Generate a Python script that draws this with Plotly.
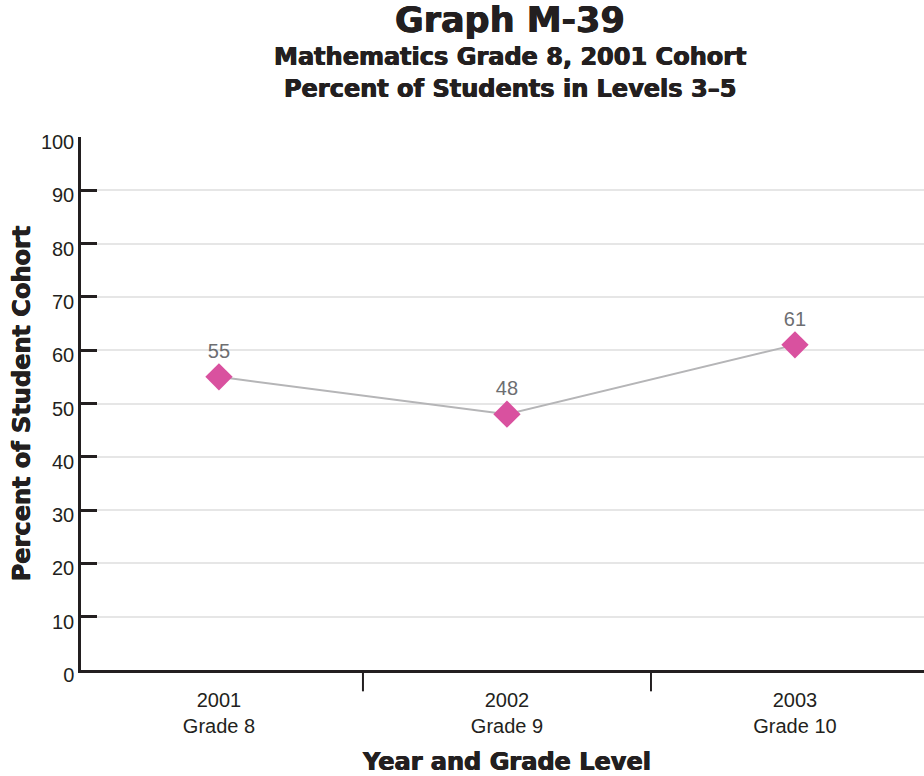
import plotly.graph_objects as go

# Cohort data
years = ["2001", "2002", "2003"]
grades = ["Grade 8", "Grade 9", "Grade 10"]
percent_levels_3_5 = [55, 48, 61]
y_ticks = [0, 10, 20, 30, 40, 50, 60, 70, 80, 90, 100]

title_lines = ["Graph M-39",
               "Mathematics Grade 8, 2001 Cohort",
               "Percent of Students in Levels 3–5"]

x_pos = list(range(len(years)))
cat_labels = [f"{y}<br>{g}" for y, g in zip(years, grades)]

DARK = "#231f20"
HEAVY = "DejaVu Sans"
THICK = "0.5px 0 0 #231f20, -0.5px 0 0 #231f20"
REG = "Liberation Sans"


def heavy_font(size):
    return dict(family=HEAVY, size=size, color=DARK, weight="bold", shadow=THICK)


fig = go.Figure()

fig.add_trace(go.Scatter(
    x=x_pos,
    y=percent_levels_3_5,
    mode="lines+markers+text",
    line=dict(color="#b5b5b7", width=2),
    marker=dict(symbol="diamond", size=21, color="#d9519f"),
    text=[str(v) for v in percent_levels_3_5],
    textposition="top center",
    textfont=dict(family=REG, size=20, color="#6d6e71"),
    cliponaxis=False,
    hoverinfo="skip",
))

# separators between the year groups on the x axis
for b in [0.5, 1.5]:
    fig.add_shape(type="line", xref="x", yref="paper",
                  x0=b, x1=b, y0=0, y1=-0.04,
                  line=dict(color=DARK, width=2))

# three-line heading
for text, ypos, size in zip(title_lines, [1.2195, 1.150, 1.090], [35, 24, 24]):
    fig.add_annotation(text=text, xref="paper", yref="paper",
                       x=0.509, y=ypos, xanchor="center", yanchor="middle",
                       showarrow=False, font=heavy_font(size))

fig.add_annotation(
    text="Year and Grade Level", xref="x", yref="paper",
    x=1, y=-0.172, yanchor="middle", showarrow=False,
    font=heavy_font(24),
)

fig.update_layout(
    width=924, height=776,
    margin=dict(l=81, r=0, t=137, b=106),
    paper_bgcolor="white",
    plot_bgcolor="white",
    showlegend=False,
    xaxis=dict(
        range=[-0.479, 2.448],
        tickvals=x_pos,
        ticktext=cat_labels,
        ticks="",
        showgrid=False,
        zeroline=False,
        showline=True, linecolor=DARK, linewidth=2.5,
        tickfont=dict(family=REG, size=20, color=DARK),
        ticklabelstandoff=10,
    ),
    yaxis=dict(
        range=[0, 100],
        tickvals=y_ticks,
        ticks="inside", ticklen=16, tickwidth=2.5, tickcolor=DARK,
        showgrid=True, gridcolor="#e6e6e6", gridwidth=2,
        zeroline=False,
        showline=True, linecolor=DARK, linewidth=2.5,
        tickfont=dict(family=REG, size=20, color=DARK),
        ticklabelshift=5,
        ticklabelstandoff=0,
        title=dict(text="Percent of Student Cohort", standoff=4,
                   font=heavy_font(24)),
    ),
)

fig.write_html("out.html")
